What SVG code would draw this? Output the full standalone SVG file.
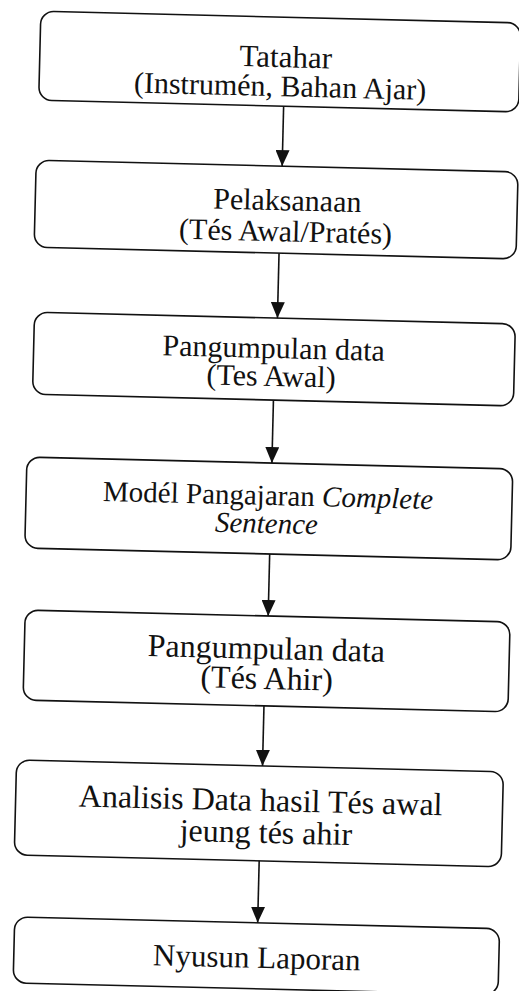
<svg xmlns="http://www.w3.org/2000/svg" width="519" height="991" viewBox="0 0 519 991">
<style>
.box{fill:#fff;stroke:#111;stroke-width:1.6}
.t{font-family:"Liberation Serif","Times New Roman",serif;fill:#111;text-anchor:middle}
.it{font-style:italic}
.conn{stroke:#111;stroke-width:1.6;fill:none}
</style>
<defs>
<marker id="ah" viewBox="0 0 16 14" refX="16" refY="7" markerWidth="16" markerHeight="14" markerUnits="userSpaceOnUse" orient="auto">
<path d="M0,0 L16,7 L0,14 Z" fill="#111"/>
</marker>
</defs>
<rect width="519" height="991" fill="#fff"/>
<g transform="rotate(1.4 270 500)">
<g id="n1"><rect class="box" x="29" y="17" width="480" height="89" rx="13"/>
<text class="t" x="275" y="67" font-size="31">Tatahar</text>
<text class="t" x="270" y="96" font-size="30">(Instrumén, Bahan Ajar)</text></g>
<g id="n2"><rect class="box" x="28" y="166" width="482" height="87" rx="13"/>
<text class="t" x="280" y="210" font-size="30">Pelaksanaan</text>
<text class="t" x="279" y="241" font-size="30">(Tés Awal/Pratés)</text></g>
<g id="n3"><rect class="box" x="30" y="318" width="481" height="82" rx="13"/>
<text class="t" x="270" y="358" font-size="30">Pangumpulan data</text>
<text class="t" x="268" y="386" font-size="30">(Tes Awal)</text></g>
<g id="n4"><rect class="box" x="26" y="463" width="486" height="91" rx="13"/>
<text class="t" x="268" y="505" font-size="29">Modél Pangajaran <tspan class="it">Complete</tspan></text>
<text class="t it" x="267" y="533" font-size="29">Sentence</text></g>
<g id="n5"><rect class="box" x="28" y="616" width="485" height="90" rx="13"/>
<text class="t" x="270" y="659" font-size="32">Pangumpulan data</text>
<text class="t" x="271" y="689" font-size="32">(Tés Ahir)</text></g>
<g id="n6"><rect class="box" x="23" y="766" width="487" height="95" rx="13"/>
<text class="t" x="268" y="811" font-size="32">Analisis Data hasil Tés awal</text>
<text class="t" x="274" y="843" font-size="32">jeung tés ahir</text></g>
<g id="n7"><rect class="box" x="25" y="923" width="485" height="66" rx="13"/>
<text class="t" x="268" y="968" font-size="31">Nyusun Laporan</text></g>
<g id="connectors">
<line class="conn" x1="274" y1="106" x2="274" y2="166" marker-end="url(#ah)"/>
<line class="conn" x1="273" y1="253" x2="273" y2="318" marker-end="url(#ah)"/>
<line class="conn" x1="271" y1="400" x2="271" y2="463" marker-end="url(#ah)"/>
<line class="conn" x1="271" y1="554" x2="271" y2="616" marker-end="url(#ah)"/>
<line class="conn" x1="269" y1="706" x2="269" y2="766" marker-end="url(#ah)"/>
<line class="conn" x1="268" y1="861" x2="268" y2="923" marker-end="url(#ah)"/>
</g>
</g>
</svg>
